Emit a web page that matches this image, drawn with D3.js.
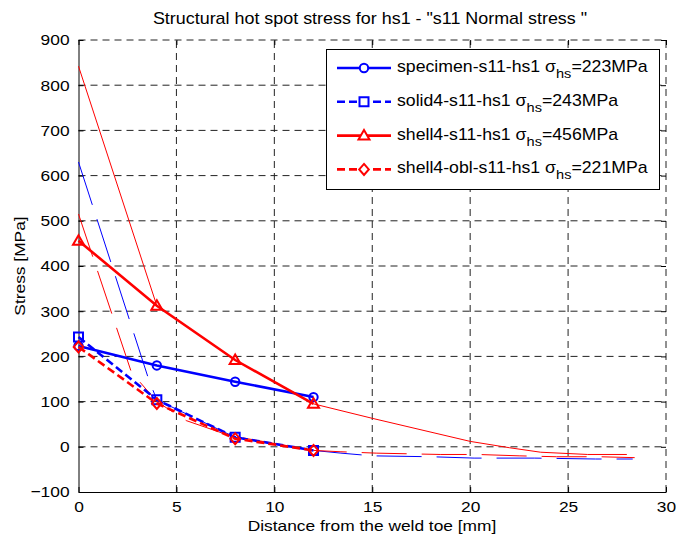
<!DOCTYPE html>
<html>
<head>
<meta charset="utf-8">
<script src="https://cdn.jsdelivr.net/npm/d3@7"></script>
<style>
  body { margin: 0; background: #fff; }
  text { font-family: "Liberation Sans", Arial, sans-serif; fill: #000; }
</style>
</head>
<body>
<svg id="chart" width="676" height="542"></svg>
<script>
// evaluated points along the path
const xs = [0, 4, 8, 12];
const specimen = [223, 180, 144, 110];
const solid4 = [243, 104, 21, -8];
const shell4 = [456, 312, 192, 95];
const shellObl = [221, 96, 18, -8];

// raw stress paths (thin lines)
const shell4RawX = [0, 4, 8, 12, 15, 20, 22, 23.6, 26, 28];
const shell4RawY = [842, 312, 192, 95, 63, 12, -2, -12, -17, -17];
const solid4RawX = [0, 3.6, 4, 8, 12, 13.4, 15, 18, 20.2, 23.3, 26.4, 28.3];
const solid4RawY = [630, 147, 104, 21, -8, -14, -20, -22, -25, -25, -27, -27];
const oblRawX = [0, 2.7, 4, 5.5, 7.7, 12, 13.4, 15.2, 18.5, 20.4, 22.5, 24.4, 26.6, 28.4];
const oblRawY = [515, 165, 100, 58, 25, -8, -11, -14, -17, -17, -20, -22, -22, -24];

const legendNames = ['specimen-s11-hs1', 'solid4-s11-hs1', 'shell4-s11-hs1', 'shell4-obl-s11-hs1'];
const legendHs = [223, 243, 456, 221];

const xTicks = [0, 5, 10, 15, 20, 25, 30];
const yTicks = [-100, 0, 100, 200, 300, 400, 500, 600, 700, 800, 900];

const blue = '#0000ff', red = '#ff0000';
const sx = 1.12; // horizontal stretch of the fonts in the picture

const svg = d3.select('#chart');
const x = d3.scaleLinear().domain([0, 30]).range([78.5, 666]);
const y = d3.scaleLinear().domain([-100, 900]).range([492, 40]);

// grid
const grid = svg.append('g');
grid.selectAll('.gx').data(xTicks.slice(1)).join('line')
  .attr('x1', d => x(d)).attr('x2', d => x(d))
  .attr('y1', y(-100)).attr('y2', y(900))
  .attr('stroke', '#222').attr('stroke-dasharray', '7,5');
grid.selectAll('.gy').data(yTicks.slice(1)).join('line')
  .attr('y1', d => y(d)).attr('y2', d => y(d))
  .attr('x1', x(0)).attr('x2', x(30))
  .attr('stroke', '#222').attr('stroke-dasharray', '7,5');

// axes with inward ticks
const ax = svg.append('g').attr('transform', `translate(0,${y(-100)})`)
  .call(d3.axisBottom(x).tickValues(xTicks).tickSizeInner(-5).tickSizeOuter(0).tickPadding(9));
const ay = svg.append('g').attr('transform', `translate(${x(0)},0)`)
  .call(d3.axisLeft(y).tickValues(yTicks).tickSizeInner(-5).tickSizeOuter(0).tickPadding(8));
const axTop = svg.append('g').attr('transform', `translate(0,${y(900)})`)
  .call(d3.axisTop(x).tickValues(xTicks).tickSizeInner(-5).tickSizeOuter(0).tickFormat(''));
const ayRight = svg.append('g').attr('transform', `translate(${x(30)},0)`)
  .call(d3.axisRight(y).tickValues(yTicks).tickSizeInner(-5).tickSizeOuter(0).tickFormat(''));
[axTop, ayRight].forEach(g => g.select('.domain').remove());
[ax, ay, axTop, ayRight].forEach(g => g.selectAll('line').attr('stroke', '#000'));
[ax, ay].forEach(g => g.select('.domain').attr('stroke', '#000'));
ax.selectAll('text').attr('font-size', 15.5).attr('font-family', '"Liberation Sans", Arial')
  .attr('transform', `scale(${sx},1)`);
ay.selectAll('text').attr('font-size', 15.5).attr('font-family', '"Liberation Sans", Arial')
  .attr('transform', `scale(${sx},1)`);

// markers
function marker(g, type) {
  if (type === 'circle') {
    return g.append('circle').attr('r', 4.2);
  }
  let p;
  if (type === 'square') p = 'M-4.5,-4.5L4.5,-4.5L4.5,4.5L-4.5,4.5Z';
  if (type === 'triangle') p = 'M0,-5.5L5.5,4L-5.5,4Z';
  if (type === 'diamond') p = 'M0,-5.5L4.8,0L0,5.5L-4.8,0Z';
  return g.append('path').attr('d', p);
}

const line = d3.line().x(d => x(d[0])).y(d => y(d[1]));

// thin raw lines
const thin = [
  { xs: shell4RawX, ys: shell4RawY, color: red, dash: null },
  { xs: solid4RawX, ys: solid4RawY, color: blue, dash: '45,15' },
  { xs: oblRawX, ys: oblRawY, color: red, dash: '45,15' }
];
thin.forEach(s => {
  svg.append('path')
    .attr('d', line(s.xs.map((v, i) => [v, s.ys[i]])))
    .attr('fill', 'none').attr('stroke', s.color).attr('stroke-width', 1)
    .attr('stroke-dasharray', s.dash);
});

// thick evaluated series
const series = [
  { ys: specimen, color: blue, dash: null, mk: 'circle' },
  { ys: solid4, color: blue, dash: '8,4', mk: 'square' },
  { ys: shell4, color: red, dash: null, mk: 'triangle' },
  { ys: shellObl, color: red, dash: '8,4', mk: 'diamond' }
];
series.forEach(s => {
  svg.append('path')
    .attr('d', line(xs.map((v, i) => [v, s.ys[i]])))
    .attr('fill', 'none').attr('stroke', s.color).attr('stroke-width', 2.6)
    .attr('stroke-dasharray', s.dash);
  xs.forEach((v, i) => {
    const g = svg.append('g').attr('transform', `translate(${x(v)},${y(s.ys[i])})`);
    marker(g, s.mk).attr('fill', 'none').attr('stroke', s.color).attr('stroke-width', 2);
  });
});

// legend
const lg = svg.append('g');
lg.append('rect').attr('x', 326.5).attr('y', 49.5).attr('width', 333).attr('height', 140)
  .attr('fill', '#fff').attr('stroke', '#000').attr('stroke-width', 1);
series.forEach((s, i) => {
  const by = 72 + i * 33.8;
  const ly = by - 4;
  lg.append('line').attr('x1', 337).attr('x2', 391).attr('y1', ly).attr('y2', ly)
    .attr('stroke', s.color).attr('stroke-width', 2.6).attr('stroke-dasharray', s.dash);
  const g = lg.append('g').attr('transform', `translate(364,${ly})`);
  marker(g, s.mk).attr('fill', '#fff').attr('stroke', s.color).attr('stroke-width', 2);
  const t = lg.append('text').attr('transform', `translate(397,${by}) scale(${sx},1)`)
    .attr('font-size', 15.8);
  t.append('tspan').text(legendNames[i] + ' σ');
  t.append('tspan').attr('dy', 6).attr('font-size', 13).text('hs');
  t.append('tspan').attr('dy', -6).text('=' + legendHs[i] + 'MPa');
});

// titles
svg.append('text').attr('transform', `translate(370,24) scale(${sx},1)`)
  .attr('text-anchor', 'middle').attr('font-size', 16)
  .text('Structural hot spot stress for hs1 - "s11 Normal stress "');
svg.append('text').attr('transform', `translate(372,531) scale(${sx},1)`)
  .attr('text-anchor', 'middle').attr('font-size', 15.5)
  .text('Distance from the weld toe [mm]');
svg.append('text').attr('transform', `translate(25,266) rotate(-90) scale(${sx},1)`)
  .attr('text-anchor', 'middle').attr('font-size', 15.5)
  .text('Stress [MPa]');
</script>
</body>
</html>
